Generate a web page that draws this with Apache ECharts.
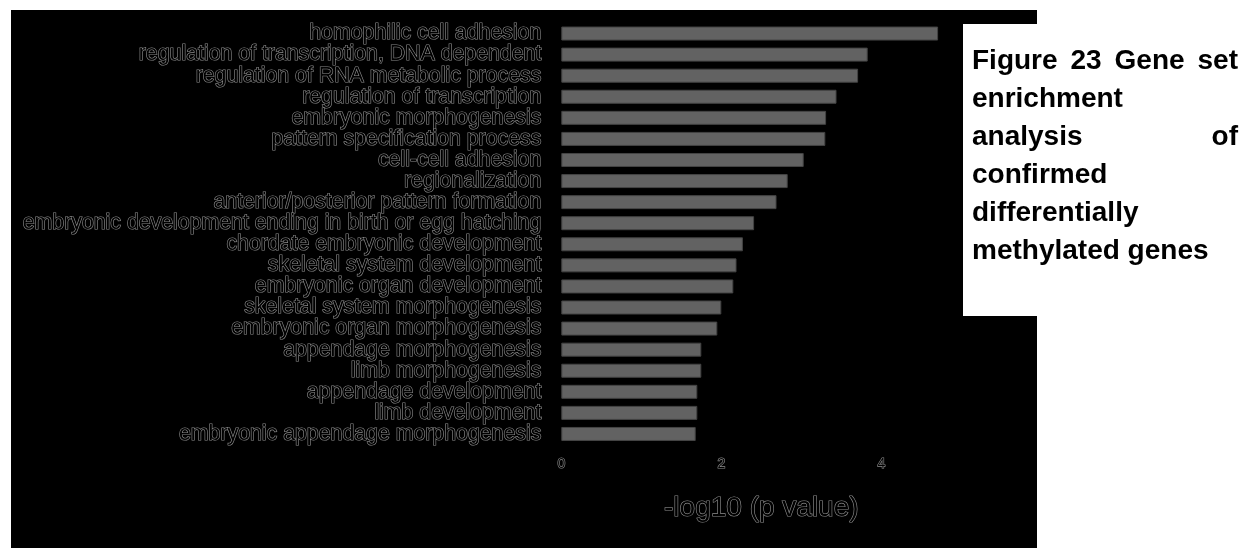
<!DOCTYPE html>
<html>
<head>
<meta charset="utf-8">
<script src="https://cdn.jsdelivr.net/npm/echarts@6/dist/echarts.min.js"></script>
<style>
  html, body { margin: 0; padding: 0; background: #ffffff; }
  #chart { position: absolute; left: 0; top: 0; width: 1245px; height: 548px; }
  #caption {
    position: absolute; left: 972px; top: 41px; width: 266px;
    font-family: "Liberation Sans", Arial, sans-serif; font-weight: bold;
    font-size: 28px; line-height: 38px; color: #000;
    text-align: justify; text-align-last: left;
  }
</style>
</head>
<body>
<div id="chart"></div>
<div id="caption">Figure 23 Gene set enrichment analysis of confirmed differentially methylated genes</div>
<script>
// GO terms, most significant first
const terms = [
  'homophilic cell adhesion',
  'regulation of transcription, DNA dependent',
  'regulation of RNA metabolic process',
  'regulation of transcription',
  'embryonic morphogenesis',
  'pattern specification process',
  'cell-cell adhesion',
  'regionalization',
  'anterior/posterior pattern formation',
  'embryonic development ending in birth or egg hatching',
  'chordate embryonic development',
  'skeletal system development',
  'embryonic organ development',
  'skeletal system morphogenesis',
  'embryonic organ morphogenesis',
  'appendage morphogenesis',
  'limb morphogenesis',
  'appendage development',
  'limb development',
  'embryonic appendage morphogenesis'
];
// -log10(p value) for each term
const negLogP = [4.71, 3.83, 3.71, 3.44, 3.31, 3.30, 3.03, 2.83, 2.69, 2.41,
                 2.27, 2.19, 2.15, 2.00, 1.95, 1.75, 1.75, 1.70, 1.70, 1.68];
const xTicks = [0, 2, 4];
const axisTitle = '-log10 (p value)';

const chart = echarts.init(document.getElementById('chart'), null, { renderer: 'canvas' });

// outlined grey lettering on the dark panel
const hollow = { color: '#000000', textBorderColor: '#8e8e8e', textBorderWidth: 1.2 };

chart.setOption({
  backgroundColor: 'transparent',
  animation: false,
  graphic: [
    // dark panel behind the plot
    { type: 'rect', z: -10, shape: { x: 11, y: 10, width: 1026, height: 538 }, style: { fill: '#000000' } },
    // white caption box
    { type: 'rect', z: -9, shape: { x: 963, y: 24, width: 282, height: 292 }, style: { fill: '#ffffff' } }
  ],
  grid: { left: 561.3, right: 283.7, top: 23, bottom: 103.5, containLabel: false },
  xAxis: {
    type: 'value', min: 0, max: 5, interval: 2,
    axisLine: { show: false }, axisTick: { show: false }, splitLine: { show: false },
    axisLabel: Object.assign({
      fontFamily: 'Liberation Sans', fontSize: 14, margin: 13,
      formatter: v => (xTicks.indexOf(v) >= 0 ? String(v) : '')
    }, hollow),
    name: axisTitle, nameLocation: 'middle', nameGap: 50,
    nameTextStyle: Object.assign({ fontFamily: 'Liberation Sans', fontSize: 28 }, hollow)
  },
  yAxis: {
    type: 'category', data: terms, inverse: true,
    axisLine: { show: false }, axisTick: { show: false }, splitLine: { show: false },
    axisLabel: Object.assign({ fontFamily: 'Liberation Sans', fontSize: 21.3, margin: 20, interval: 0 }, hollow)
  },
  series: [{
    type: 'bar', data: negLogP, barWidth: 14,
    itemStyle: { color: '#626262', borderColor: '#444444', borderWidth: 1 }
  }]
});
</script>
</body>
</html>
